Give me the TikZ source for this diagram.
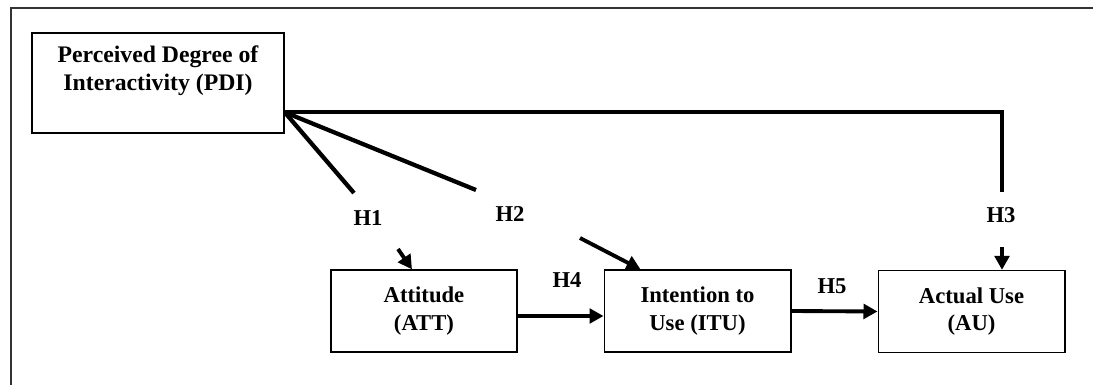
\documentclass[tikz,border=0pt]{standalone}
\usepackage{fontspec}
\setmainfont{Liberation Serif}
\usetikzlibrary{arrows.meta}

\begin{document}
\begin{tikzpicture}[x=0.75pt,y=0.75pt,yscale=-1,xscale=1,
    box/.style={draw,line width=1pt,inner sep=0.75pt,align=center,font=\fontsize{17}{20.5}\selectfont\bfseries},
    hyp/.style={inner sep=0.75pt,font=\fontsize{17}{19}\selectfont\bfseries},
    link/.style={line width=3.2pt},
    linkarrow/.style={line width=2.9pt,-{Triangle[length=10.5pt,width=11pt]}}]
\useasboundingbox (0,0) rectangle (1093,385);
\draw [line width=0.8pt,color=black!80] (1093,8) -- (11,8) -- (11,385);
% boxes
\node [box,minimum width=189pt,minimum height=75pt] (pdi) at (158,83) {};
\node [anchor=north,inner sep=0.75pt,align=center,font=\fontsize{17.8}{21}\selectfont\bfseries] (pdiText) at (158,45) {Perceived Degree of\\Interactivity (PDI)};
\node [box,minimum width=139.5pt,minimum height=61.5pt] (att) at (424,311) {Attitude\\(ATT)};
\node [box,minimum width=140pt,minimum height=61.5pt] (itu) at (697.5,311) {Intention to\\Use (ITU)};
\node [box,minimum width=140pt,minimum height=61.5pt] (au) at (971.5,311.5) {Actual Use\\(AU)};
% hypotheses
\node [hyp] (h1) at (368,218) {H1};
\node [hyp] (h2) at (510,214) {H2};
\node [hyp] (h3) at (1001,215) {H3};
\node [hyp] (h4) at (567,280) {H4};
\node [hyp] (h5) at (832,286) {H5};
\coordinate (h1End) at (354,193);
\coordinate (h1Start) at (398,249);
\coordinate (h2End) at (476,190);
\coordinate (h2Start) at (580,238);
\coordinate (h3End) at (1002,192);
\coordinate (h3Start) at (1002,247);
% links
\draw [link] (pdi.-13) -- (h1End);
\draw [linkarrow] (h1Start) -- ([xshift=-9pt]att.north);
\draw [link] (pdi.-13) -- (h2End);
\draw [linkarrow] (h2Start) -- ([xshift=-42.75pt]itu.north);
\draw [link] (pdi.-13) -| (h3End);
\draw [linkarrow] (h3Start) -- (h3Start |- au.north);
\draw [linkarrow] ([yshift=3.75pt]att.east) -- ([yshift=3.75pt]itu.west);
\draw [linkarrow] (itu.east) -- (au.west);
\end{tikzpicture}
\end{document}
